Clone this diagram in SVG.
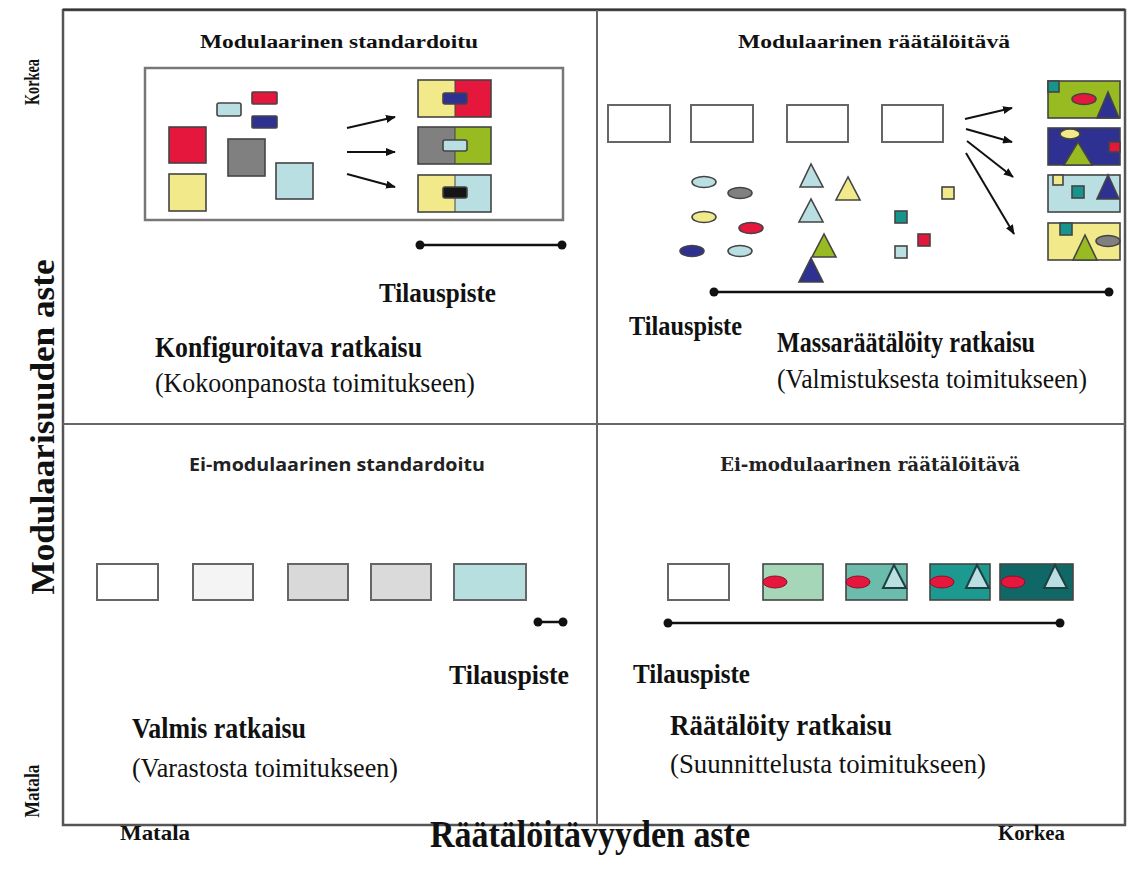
<svg xmlns="http://www.w3.org/2000/svg" width="1132" height="879" viewBox="0 0 1132 879">
  <style>
    .serif { font-family: "Liberation Serif", "Times New Roman", serif; fill: #111; }
    .b { font-weight: bold; }
    .sans { font-family: "Open Sans", "Noto Sans", sans-serif; font-weight: bold; fill: #222; }
    .slab { font-family: "DejaVu Serif", serif; font-weight: bold; fill: #222; }
    .frame { fill: none; stroke: #555; stroke-width: 2.5; }
    .div { stroke: #666; stroke-width: 2; }
    .sh { stroke: #444; stroke-width: 1.6; }
    .box { fill: #fff; stroke: #666; stroke-width: 2; }
    .arr { stroke: #111; stroke-width: 2; fill: none; marker-end: url(#ah); }
    .tl { stroke: #111; stroke-width: 2.5; }
    .red { fill: #e5173c; } .yel { fill: #f1e98a; } .gry { fill: #808080; }
    .lbl { fill: #b9dfe3; } .dbl { fill: #2e3192; } .grn { fill: #99bb22; }
    .tea { fill: #16948d; } .blk { fill: #151515; }
  </style>
  <defs>
    <marker id="ah" markerWidth="10" markerHeight="8" refX="9" refY="4" orient="auto" markerUnits="userSpaceOnUse">
      <path d="M0,0 L10,4 L0,8 Z" fill="#111"/>
    </marker>
  </defs>

  <rect width="1132" height="879" fill="#fff"/>

  <!-- quadrant frame -->
  <g id="frame">
    <rect class="frame" x="63" y="10" width="1062" height="815"/>
    <line x1="63" y1="9.5" x2="1125" y2="9.5" stroke="#333" stroke-width="2"/>
    <line class="div" x1="597" y1="10" x2="597" y2="825"/>
    <line class="div" x1="63" y1="424" x2="1125" y2="424"/>
  </g>

  <!-- axis labels -->
  <g id="axis-y">
    <text class="serif b" font-size="34" text-anchor="middle" transform="translate(54,427) rotate(-90)" textLength="335" lengthAdjust="spacingAndGlyphs">Modulaarisuuden aste</text>
    <text class="serif b" font-size="22" text-anchor="middle" transform="translate(39,82) rotate(-90)" textLength="46" lengthAdjust="spacingAndGlyphs">Korkea</text>
    <text class="serif b" font-size="22" text-anchor="middle" transform="translate(39,791) rotate(-90)" textLength="53" lengthAdjust="spacingAndGlyphs">Matala</text>
  </g>
  <g id="axis-x">
    <text class="serif b" x="120" y="840" font-size="21" textLength="70" lengthAdjust="spacingAndGlyphs">Matala</text>
    <text class="serif b" x="430" y="847" font-size="38" textLength="320" lengthAdjust="spacingAndGlyphs">Räätälöitävyyden aste</text>
    <text class="serif b" x="998" y="840" font-size="21" textLength="67" lengthAdjust="spacingAndGlyphs">Korkea</text>
  </g>

  <!-- upper left: modular standardised -->
  <g id="modular-standard">
    <text class="serif b" x="200" y="48" font-size="18" textLength="278" lengthAdjust="spacingAndGlyphs">Modulaarinen standardoitu</text>
    <rect x="145" y="68" width="418" height="152" fill="#fff" stroke="#777" stroke-width="2.5"/>
    <rect class="sh red" x="169" y="127" width="37" height="36"/>
    <rect class="sh yel" x="169" y="174" width="37" height="37"/>
    <rect class="sh gry" x="228" y="139" width="37" height="37"/>
    <rect class="sh lbl" x="276" y="163" width="37" height="36"/>
    <rect class="sh lbl" x="217" y="103" width="24" height="13" rx="2"/>
    <rect class="sh red" x="252" y="92" width="25" height="12" rx="1"/>
    <rect class="sh dbl" x="252" y="116" width="25" height="12" rx="1"/>
    <line class="arr" x1="347" y1="128" x2="395" y2="117"/>
    <line class="arr" x1="347" y1="152" x2="395" y2="152"/>
    <line class="arr" x1="347" y1="174" x2="395" y2="187"/>
    <!-- assembled variants -->
    <rect class="yel" x="418" y="80" width="37" height="37"/>
    <rect class="red" x="455" y="80" width="36" height="37"/>
    <rect x="418" y="80" width="73" height="37" fill="none" stroke="#444" stroke-width="1.6"/>
    <line x1="455" y1="80" x2="455" y2="117" stroke="#444" stroke-width="1"/>
    <rect class="sh dbl" x="443" y="93" width="24" height="11" rx="2"/>
    <rect class="gry" x="418" y="127" width="37" height="37"/>
    <rect class="grn" x="455" y="127" width="36" height="37"/>
    <rect x="418" y="127" width="73" height="37" fill="none" stroke="#444" stroke-width="1.6"/>
    <line x1="455" y1="127" x2="455" y2="164" stroke="#444" stroke-width="1"/>
    <rect class="sh lbl" x="443" y="140" width="24" height="11" rx="2"/>
    <rect class="yel" x="418" y="175" width="37" height="37"/>
    <rect class="lbl" x="455" y="175" width="36" height="37"/>
    <rect x="418" y="175" width="73" height="37" fill="none" stroke="#444" stroke-width="1.6"/>
    <line x1="455" y1="175" x2="455" y2="212" stroke="#444" stroke-width="1"/>
    <rect class="sh blk" x="443" y="187" width="24" height="11" rx="2"/>
    <line class="tl" x1="420" y1="245" x2="562" y2="245"/>
    <circle cx="420" cy="245" r="4.5" fill="#111"/>
    <circle cx="562" cy="245" r="4.5" fill="#111"/>
    <text class="serif b" x="379" y="302" font-size="27" textLength="117" lengthAdjust="spacingAndGlyphs">Tilauspiste</text>
    <text class="serif b" x="155" y="357" font-size="30" textLength="267" lengthAdjust="spacingAndGlyphs">Konfiguroitava ratkaisu</text>
    <text class="serif" x="155" y="392" font-size="28" textLength="320" lengthAdjust="spacingAndGlyphs">(Kokoonpanosta toimitukseen)</text>
  </g>

  <!-- upper right: modular customisable -->
  <g id="modular-custom">
    <text class="serif b" x="738" y="48" font-size="18" textLength="272" lengthAdjust="spacingAndGlyphs">Modulaarinen räätälöitävä</text>
    <rect class="box" x="608" y="105" width="62" height="37"/>
    <rect class="box" x="691" y="105" width="62" height="37"/>
    <rect class="box" x="787" y="105" width="61" height="37"/>
    <rect class="box" x="882" y="105" width="61" height="37"/>
    <!-- loose modules -->
    <ellipse class="sh lbl" cx="704" cy="182" rx="12" ry="5.5"/>
    <ellipse class="sh gry" cx="740" cy="193" rx="12" ry="5.5"/>
    <ellipse class="sh yel" cx="704" cy="217" rx="12" ry="5.5"/>
    <ellipse class="sh red" cx="751" cy="228" rx="12" ry="5.5"/>
    <ellipse class="sh dbl" cx="692" cy="251" rx="12" ry="5.5"/>
    <ellipse class="sh lbl" cx="740" cy="251" rx="12" ry="5.5"/>
    <polygon class="sh lbl" points="811,164 800,187 823,187"/>
    <polygon class="sh yel" points="848,177 836,200 860,200"/>
    <polygon class="sh lbl" points="811,199 799,222 823,222"/>
    <polygon class="sh grn" points="824,234 812,257 836,257"/>
    <polygon class="sh dbl" points="811,258 799,282 823,282"/>
    <rect class="sh yel" x="942" y="187" width="12" height="12"/>
    <rect class="sh tea" x="895" y="211" width="12" height="12"/>
    <rect class="sh red" x="918" y="234" width="12" height="12"/>
    <rect class="sh lbl" x="895" y="246" width="12" height="12"/>
    <line class="arr" x1="965" y1="119" x2="1012" y2="108"/>
    <line class="arr" x1="966" y1="129" x2="1012" y2="142"/>
    <line class="arr" x1="967" y1="141" x2="1013" y2="177"/>
    <line class="arr" x1="966" y1="153" x2="1014" y2="234"/>
    <!-- customised products -->
    <rect class="sh grn" x="1048" y="81" width="72" height="37"/>
    <rect class="sh tea" x="1048" y="81" width="11" height="11"/>
    <ellipse class="sh red" cx="1084" cy="99" rx="12" ry="5.5"/>
    <polygon class="sh dbl" points="1108,92 1097,118 1119,118"/>
    <rect class="sh dbl" x="1048" y="128" width="72" height="37"/>
    <ellipse class="sh yel" cx="1070" cy="134" rx="10" ry="5"/>
    <polygon class="sh grn" points="1078,142 1064,165 1092,165"/>
    <rect class="sh red" x="1109" y="142" width="11" height="10"/>
    <rect class="sh lbl" x="1048" y="175" width="72" height="37"/>
    <rect class="sh yel" x="1053" y="175" width="10" height="10"/>
    <rect class="sh tea" x="1072" y="186" width="12" height="12"/>
    <polygon class="sh dbl" points="1108,175 1097,199 1119,199"/>
    <rect class="sh yel" x="1048" y="223" width="72" height="37"/>
    <rect class="sh tea" x="1060" y="223" width="12" height="12"/>
    <polygon class="sh grn" points="1085,235 1073,260 1097,260"/>
    <ellipse class="sh gry" cx="1108" cy="241" rx="12" ry="5.5"/>
    <line class="tl" x1="714" y1="292" x2="1109" y2="292"/>
    <circle cx="714" cy="292" r="4.5" fill="#111"/>
    <circle cx="1109" cy="292" r="4.5" fill="#111"/>
    <text class="serif b" x="629" y="335" font-size="27" textLength="113" lengthAdjust="spacingAndGlyphs">Tilauspiste</text>
    <text class="serif b" x="777" y="352" font-size="30" textLength="258" lengthAdjust="spacingAndGlyphs">Massaräätälöity ratkaisu</text>
    <text class="serif" x="777" y="388" font-size="28" textLength="310" lengthAdjust="spacingAndGlyphs">(Valmistuksesta toimitukseen)</text>
  </g>

  <!-- lower left: non-modular standardised -->
  <g id="nonmodular-standard">
    <text class="sans" x="189" y="471" font-size="18" textLength="296" lengthAdjust="spacingAndGlyphs">Ei-modulaarinen standardoitu</text>
    <rect class="box" x="97" y="564" width="61" height="36"/>
    <rect x="193" y="564" width="60" height="36" fill="#f4f4f4" stroke="#666" stroke-width="2"/>
    <rect x="288" y="564" width="60" height="36" fill="#d9d9d9" stroke="#666" stroke-width="2"/>
    <rect x="371" y="564" width="60" height="36" fill="#dadada" stroke="#666" stroke-width="2"/>
    <rect x="454" y="564" width="72" height="36" fill="#b8dfe0" stroke="#666" stroke-width="2"/>
    <line class="tl" x1="538" y1="622" x2="563" y2="622"/>
    <circle cx="538" cy="622" r="4.5" fill="#111"/>
    <circle cx="563" cy="622" r="4.5" fill="#111"/>
    <text class="serif b" x="449" y="684" font-size="27" textLength="120" lengthAdjust="spacingAndGlyphs">Tilauspiste</text>
    <text class="serif b" x="132" y="738" font-size="30" textLength="174" lengthAdjust="spacingAndGlyphs">Valmis ratkaisu</text>
    <text class="serif" x="132" y="777" font-size="28" textLength="266" lengthAdjust="spacingAndGlyphs">(Varastosta toimitukseen)</text>
  </g>

  <!-- lower right: non-modular customisable -->
  <g id="nonmodular-custom">
    <text class="slab" x="720" y="471" font-size="18" textLength="300" lengthAdjust="spacingAndGlyphs">Ei-modulaarinen räätälöitävä</text>
    <rect class="box" x="668" y="564" width="61" height="36"/>
    <rect class="sh" x="763" y="564" width="60" height="36" fill="#a6d6b8"/>
    <ellipse class="red" cx="775" cy="582" rx="12" ry="6" stroke="#8a1030" stroke-width="1"/>
    <rect class="sh" x="846" y="564" width="61" height="36" fill="#6cbcab"/>
    <ellipse class="red" cx="858" cy="582" rx="12" ry="6" stroke="#8a1030" stroke-width="1"/>
    <polygon points="894,565 883,588 906,588" fill="#b9dfe3" stroke="#1e4040" stroke-width="2"/>
    <rect class="sh" x="930" y="564" width="60" height="36" fill="#1d9a90"/>
    <ellipse class="red" cx="942" cy="582" rx="12" ry="6" stroke="#8a1030" stroke-width="1"/>
    <polygon points="977,565 966,588 989,588" fill="#b9dfe3" stroke="#1e4040" stroke-width="2"/>
    <rect class="sh" x="1000" y="564" width="73" height="36" fill="#0f6866"/>
    <ellipse class="red" cx="1013" cy="582" rx="12" ry="6" stroke="#8a1030" stroke-width="1"/>
    <polygon points="1055,565 1044,588 1067,588" fill="#b9dfe3" stroke="#1e4040" stroke-width="2"/>
    <line class="tl" x1="668" y1="623" x2="1060" y2="623"/>
    <circle cx="668" cy="623" r="4.5" fill="#111"/>
    <circle cx="1060" cy="623" r="4.5" fill="#111"/>
    <text class="serif b" x="633" y="683" font-size="27" textLength="117" lengthAdjust="spacingAndGlyphs">Tilauspiste</text>
    <text class="serif b" x="670" y="735" font-size="30" textLength="222" lengthAdjust="spacingAndGlyphs">Räätälöity ratkaisu</text>
    <text class="serif" x="670" y="773" font-size="28" textLength="316" lengthAdjust="spacingAndGlyphs">(Suunnittelusta toimitukseen)</text>
  </g>
</svg>
